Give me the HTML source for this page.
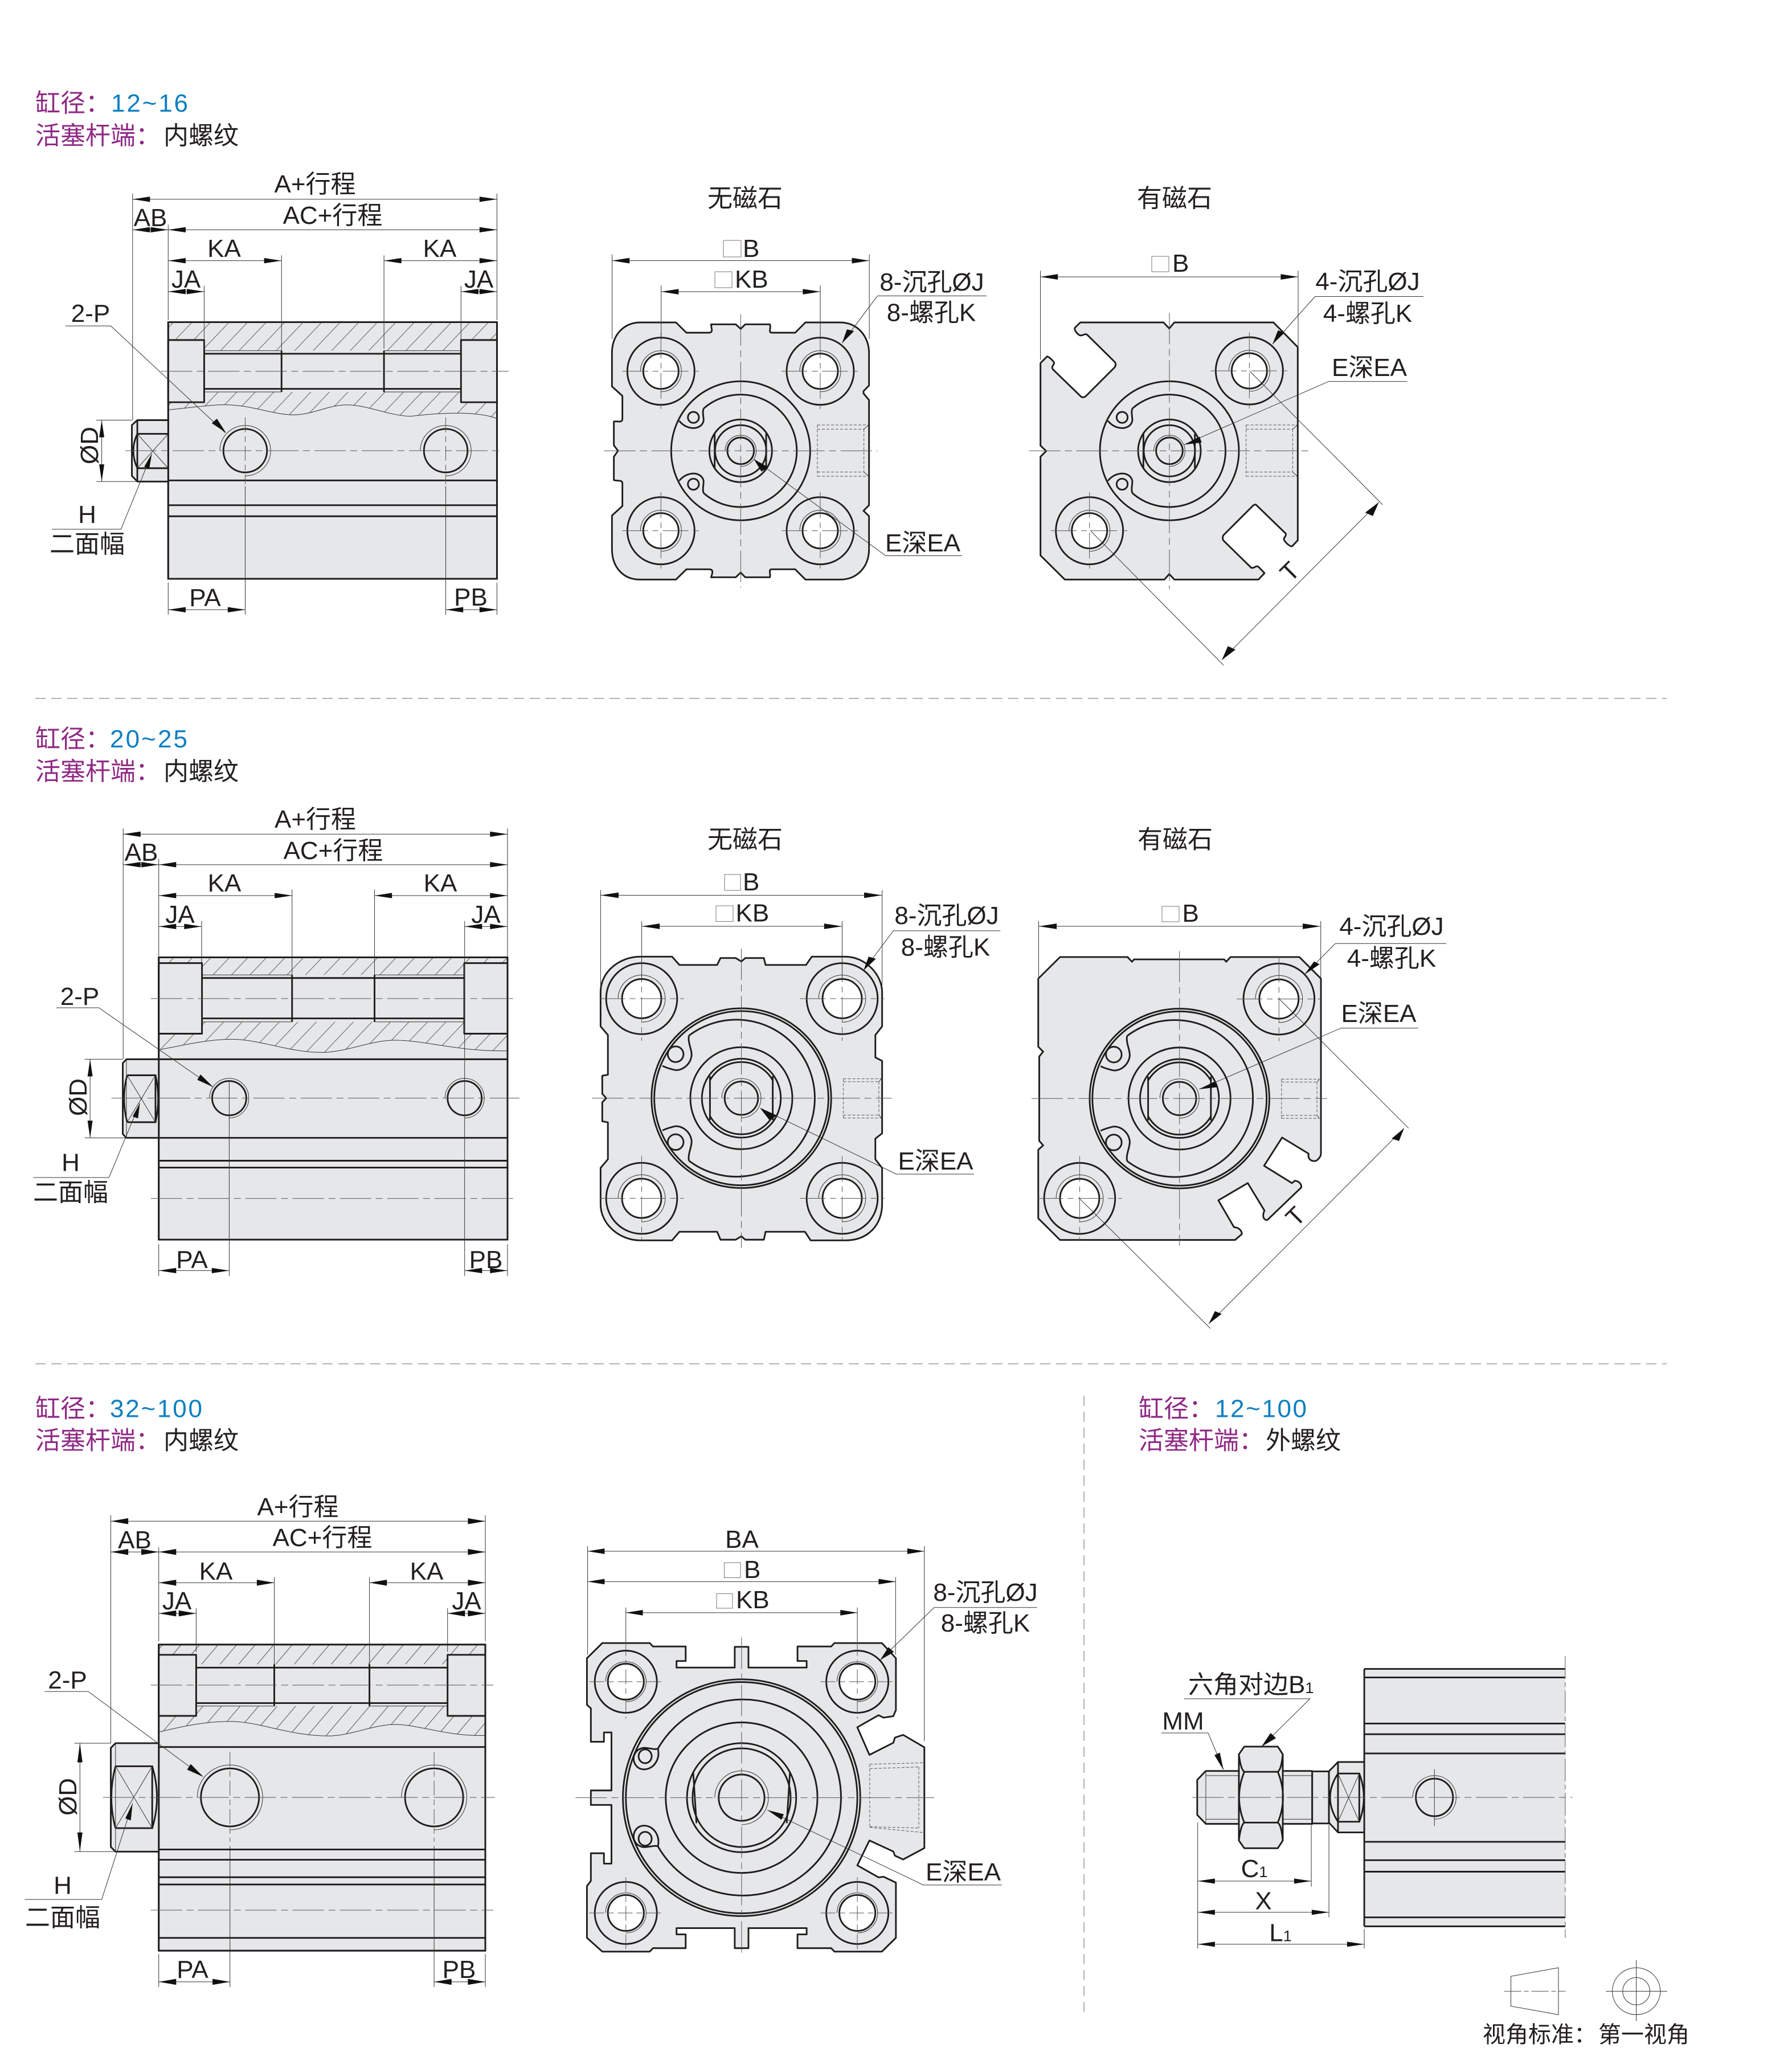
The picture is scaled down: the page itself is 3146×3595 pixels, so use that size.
<!DOCTYPE html>
<html><head><meta charset="utf-8">
<style>
html,body{margin:0;padding:0;background:#fff}
svg{display:block}
svg path,svg line,svg ellipse,svg circle,svg rect,svg polyline,svg polygon{vector-effect:non-scaling-stroke}
.o{fill:none;stroke:#1f1c1d;stroke-width:2.9}
.f{fill:#e6e7e9;stroke:#1f1c1d;stroke-width:2.9;stroke-linejoin:round}
.w{fill:#fff;stroke:#1f1c1d;stroke-width:2.9}
.t{fill:none;stroke:#333;stroke-width:1}
.c{fill:none;stroke:#555;stroke-width:1;stroke-dasharray:55 8 12 8}
.c2{fill:none;stroke:#555;stroke-width:1;stroke-dasharray:26 7 10 7}
.d{fill:none;stroke:#555;stroke-width:1;stroke-dasharray:5 3}
.a{fill:#111;stroke:none}
.sep{fill:none;stroke:#9a9a9a;stroke-width:1.5;stroke-dasharray:18 10}
text{font-family:"Liberation Sans","Noto Sans CJK SC",sans-serif;font-size:44px;fill:#231f20}
.m{text-anchor:middle}
.h{font-size:44px}
.p{fill:#8f2a85}
.b{fill:#0b7fc1}
.q{fill:#fff;stroke:#777;stroke-width:1}
</style></head><body>
<svg xmlns="http://www.w3.org/2000/svg" width="3146" height="3595" viewBox="0 0 3146 3595">
<defs>
<pattern id="hx" width="51" height="51" patternUnits="userSpaceOnUse"><path d="M0,51 L51,0 M-10,10 L10,-10 M41,61 L61,41" stroke="#444" stroke-width="1.3" fill="none"/></pattern>
<polygon id="L" class="a" points="0,0 48,-7 48,7"/>
<polygon id="R" class="a" points="0,0 -48,-7 -48,7"/>
<polygon id="U" class="a" points="0,0 -7,45 7,45"/>
<polygon id="D" class="a" points="0,0 -7,-45 7,-45"/>
<polygon id="L2" class="a" points="0,0 32,-8 32,8"/>
<polygon id="R2" class="a" points="0,0 -32,-8 -32,8"/>
<polygon id="L6" class="a" points="0,0 52,-8 52,8"/>
<polygon id="R6" class="a" points="0,0 -52,-8 -52,8"/>
<polygon id="L7" class="a" points="0,0 38,-6 38,6"/>
<polygon id="R7" class="a" points="0,0 -38,-6 -38,6"/>
<!-- holes: units at 1/3 scale -->
<g id="hz1"><circle class="o" r="177"/><path class="t" d="M-108,0 A108,108 0 1 1 0,108"/><circle class="w" r="93"/><path class="c2" d="M-203,0 H203 M0,-203 V203" style="stroke-dasharray:45 8 10 8"/></g>
<g id="hz2"><circle class="o" r="181"/><path class="t" d="M-120,0 A120,120 0 1 1 0,120"/><circle class="w" r="100"/><path class="c2" d="M-215,0 H215 M0,-215 V215" style="stroke-dasharray:45 8 10 8"/></g>
<g id="h3"><ellipse class="o" rx="95" ry="90"/><path class="t" d="M-62,0 A62,58 0 1 1 0,58"/><ellipse class="w" rx="55" ry="52"/></g>
<g id="core1">
<circle class="o" r="366"/>
<path class="o" d="M-194,-224 A296,296 0 1 1 -194,224"/>
<path class="o" d="M-194,-224 C-205,-205 -192,-170 -196,-155 C-205,-125 -235,-118 -255,-120 C-280,-122 -305,-135 -324,-158"/>
<path class="o" d="M-194,224 C-205,205 -192,170 -196,155 C-205,125 -235,118 -255,120 C-280,122 -305,135 -324,158"/>
<circle class="o" cx="-249" cy="-176" r="29"/><circle class="o" cx="-249" cy="176" r="29"/>
<circle class="o" r="165"/>
<circle class="o" r="135"/>
<path class="o" d="M-137,-89 V91 M134,-89 V91"/>
<path class="t" d="M-82,0 A82,82 0 1 1 0,82"/>
<circle class="o" r="70"/>
<path class="d" d="M404,-136 H674 M404,-114 H649 M404,112 H649 M404,134 H674 M404,-136 V134 M649,-114 V112"/>
<path class="t" d="M649,-114 L674,-136 M649,112 L674,134"/>
</g>
<g id="core2">
<circle class="o" r="458"/>
<circle class="o" r="444"/>
<path class="o" d="M-267,-319 A400,400 0 1 1 -267,319" />
<path class="o" d="M-267,-319 C-275,-285 -250,-245 -254,-215 C-262,-165 -310,-135 -345,-145 C-365,-150 -385,-155 -402,-165"/>
<path class="o" d="M-267,319 C-275,285 -250,245 -254,215 C-262,165 -310,135 -345,145 C-365,150 -385,155 -402,165"/>
<circle class="o" cx="-335" cy="-224" r="40"/><circle class="o" cx="-335" cy="224" r="40"/>
<circle class="o" r="260"/>
<circle class="o" r="201"/>
<path class="o" d="M-160,-91 A184,184 0 0 1 160,-91 M-160,91 A184,184 0 0 0 160,91 M-160,-112 V112 M160,-112 V112"/>
<path class="t" d="M-100,0 A100,100 0 1 1 0,100"/>
<circle class="o" r="85"/>
<path class="d" d="M520,-99 H713 M520,-84 H701 M520,86 H701 M520,101 H713 M520,-99 V101 M701,-84 V86"/>
<path class="t" d="M701,-84 L713,-99 M701,86 L713,101"/>
</g>
</defs>

<!-- separators -->
<path class="sep" d="M62,1226 H2926 M62,2394 H2926 M1903,2450 V3540"/>

<!-- ========== SECTION 1 SIDE ========== -->
<g transform="translate(0,100) scale(.63776,.66964)">
<rect class="f" x="463" y="695" width="905" height="673"/>
<path d="M463,695 H1368 V948 C1320,930 1230,930 1130,942 C1070,940 1010,912 955,912 C900,912 860,940 800,938 C740,935 680,908 600,912 C550,915 500,922 463,925 Z" fill="url(#hx)"/>
<path class="t" d="M463,925 C500,922 550,915 600,912 C680,908 740,935 800,938 C860,940 900,912 955,912 C1010,912 1070,940 1130,942 C1230,930 1320,930 1368,948"/>
<rect x="562" y="770" width="707" height="108" fill="#e6e7e9"/>
<path class="t" d="M562,770 H775 M1057,770 H1269 M562,878 H775 M1057,878 H1269"/>
<path class="o" d="M562,778 H1269 M562,870 H1269 M775,770 V878 M1057,770 V878"/>
<rect class="f" x="463" y="742" width="99" height="163"/>
<rect class="f" x="1269" y="742" width="99" height="163"/>
<rect class="o" x="463" y="695" width="905" height="673"/>
<path class="o" d="M463,1110 H1368 M463,1175 H1368 M463,1204 H1368"/>
<path class="t" d="M605,1032 A70,66 0 1 1 675,1098"/><ellipse class="o" cx="675" cy="1032" rx="60" ry="57"/>
<path class="t" d="M1157,1032 A70,66 0 1 1 1227,1098"/><ellipse class="o" cx="1227" cy="1032" rx="60" ry="57"/>
<path class="f" d="M363,965 L378,952 H463 V1113 H378 L363,1098 Z"/>
<path class="o" d="M378,988 H463 M378,1078 H463 M378,952 V1113 M378,988 Q356,1032 378,1078"/>
<path class="t" d="M378,988 L463,1078 M378,1078 L463,988"/>
<path class="c" d="M443,824 H1400 M345,1032 H1383"/>
<path class="c2" d="M675,945 V1120 M1227,945 V1120"/>
<path class="t" d="M675,1125 V1462 M1227,1125 V1462"/>
<path class="t" d="M365,373 H1368 M365,358 V952 M1368,358 V690 M463,453 H1368 M463,440 V690 M365,453 H463 M463,534 H775 M775,520 V770 M1057,534 H1368 M1057,520 V765 M463,615 H562 M562,600 V770 M1269,615 H1368 M1269,600 V742 M463,1449 H675 M463,1378 V1462 M1227,1449 H1368 M1368,1378 V1462 M280,952 V1113 M265,952 H363 M265,1113 H375 M180,705 H305 L620,985 M143,1238 H333 L418,1040"/>
<use href="#L" x="365" y="373"/><use href="#R" x="1368" y="373"/>
<use href="#L" x="463" y="453"/><use href="#R" x="1368" y="453"/>
<use href="#L" x="365" y="453"/><use href="#R" x="463" y="453"/>
<use href="#L" x="463" y="534"/><use href="#R" x="775" y="534"/>
<use href="#L" x="1057" y="534"/><use href="#R" x="1368" y="534"/>
<use href="#L" x="463" y="615"/><use href="#R" x="562" y="615"/>
<use href="#L" x="1269" y="615"/><use href="#R" x="1368" y="615"/>
<use href="#L" x="463" y="1449"/><use href="#R" x="675" y="1449"/>
<use href="#L" x="1227" y="1449"/><use href="#R" x="1368" y="1449"/>
<use href="#U" x="280" y="952"/><use href="#D" x="280" y="1113"/>
<polygon class="a" points="622,985 583,960 597,948"/>
<polygon class="a" points="418,1040 397,1074 411,1079"/>
</g>

<!-- SECTION 1 PLAN LEFT shape -->
<g transform="translate(1040,540) scale(.33333)">
<path class="f" d="M103,240 C103,140 170,78 250,78 H440 L495,132 H615 C625,132 632,125 628,112 L625,88 H755 L781,112 L805,88 H935 C942,110 925,132 945,132 H1068 L1122,78 H1305 C1395,78 1457,150 1457,240 V410 L1428,440 V452 L1457,487 V1040 L1428,1070 L1457,1098 V1270 C1457,1370 1390,1432 1305,1432 H1122 L1068,1378 H945 C925,1378 940,1400 935,1420 H805 L781,1395 L755,1420 H625 C632,1400 640,1378 615,1378 H495 L440,1432 H250 C165,1432 103,1370 103,1270 V1095 L158,1045 V925 C158,905 130,915 113,908 V785 L135,754 L113,725 V600 C130,595 158,610 158,585 V465 L103,415 Z"/>
<use href="#hz1" x="361" y="335"/><use href="#hz1" x="1200" y="335"/><use href="#hz1" x="361" y="1175"/><use href="#hz1" x="1200" y="1175"/>
<use href="#core1" x="781" y="754"/>
<path class="c" d="M62,754 H1500 M781,35 V1475"/>
</g>
<!-- SECTION 1 PLAN RIGHT shape -->
<g transform="translate(1800,540) scale(.33333)">
<path class="f" d="M290,78 H728 L758,110 L785,78 H1307 L1435,208 V1225 L1405,1257 C1390,1258 1362,1230 1362,1218 C1362,1210 1375,1205 1372,1190 L1215,1038 C1212,1036 1205,1038 1200,1042 L1045,1197 C1038,1205 1038,1220 1045,1228 L1190,1370 C1205,1375 1215,1355 1228,1365 L1260,1398 L1228,1432 H785 L758,1403 L733,1432 H208 L80,1305 V785 L110,755 L80,727 V292 L115,257 C125,258 152,285 152,292 C152,300 135,310 145,325 L295,470 C305,475 315,470 320,465 L470,315 C478,305 478,295 470,285 L325,142 C310,135 300,152 285,145 C270,135 255,115 262,105 Z"/>
<use href="#hz1" x="1180" y="333"/><use href="#hz1" x="338" y="1175"/>
<use href="#core1" x="759" y="754"/>
<path class="c" d="M20,754 H1498 M759,28 V1482"/>
</g>
<!-- SECTION 1 PLAN dims -->
<g transform="translate(1000,280) scale(.95663,.60587)">
<path class="t" d="M168,365 V520 M460,365 V520"/>
<path class="t" d="M78,293 H550 M78,275 V520 M550,275 V520 M168,383 H460 M565,395 H765 M565,395 L500,532 M720,1148 H580 L340,870"/>
<use href="#L2" x="78" y="293"/><use href="#R2" x="550" y="293"/>
<use href="#L2" x="168" y="383"/><use href="#R2" x="460" y="383"/>
<polygon class="a" points="500,532 509,492 522,497"/>
<polygon class="a" points="338,868 365,892 352,904"/>
<path class="t" d="M864,340 H1337 M864,322 V580 M1337,322 V545 M1567,397 H1368 L1290,535 M1537,643 H1393 L1128,826 M1248,613 L1492,1000 M955,1074 L1200,1465 M1197,1450 L1485,993"/>
<use href="#L2" x="864" y="340"/><use href="#R2" x="1337" y="340"/>
<polygon class="a" points="1290,535 1300,495 1312,502"/>
<polygon class="a" points="1128,826 1156,803 1160,820"/>
<polygon class="a" points="1197,1450 1208,1410 1222,1420"/>
<polygon class="a" points="1485,993 1474,1033 1460,1023"/>
</g>

<!-- ========== SECTION 2 SIDE ========== -->
<g transform="translate(0,1250) scale(.63776,.66964)">
<rect class="f" x="437" y="643" width="960" height="740"/>
<path d="M437,643 H1397 V888 C1260,890 1180,862 1090,860 C1020,860 960,890 890,892 C800,893 730,862 650,858 C580,855 500,875 437,885 Z" fill="url(#hx)"/>
<path class="t" d="M437,885 C500,875 580,855 650,858 C730,862 800,893 890,892 C960,890 1020,860 1090,860 C1180,862 1260,890 1397,888"/>
<rect x="556" y="689" width="722" height="123" fill="#e6e7e9"/>
<path class="t" d="M556,689 H804 M1031,689 H1278 M556,812 H804 M1031,812 H1278"/>
<path class="o" d="M556,697 H1278 M556,803 H1278 M804,689 V812 M1031,689 V812"/>
<rect class="f" x="437" y="658" width="119" height="185"/>
<rect class="f" x="1278" y="658" width="119" height="185"/>
<rect class="o" x="437" y="643" width="960" height="740"/>
<path class="o" d="M437,910 H1397 M437,1116 H1397 M437,1176 H1397 M437,1194 H1397"/>
<path class="t" d="M577,1012 A54,52 0 1 1 631,1064"/><ellipse class="o" cx="631" cy="1012" rx="47" ry="45"/>
<path class="t" d="M1225,1012 A54,52 0 1 1 1279,1064"/><ellipse class="o" cx="1279" cy="1012" rx="47" ry="45"/>
<path class="f" d="M338,920 L348,910 H437 V1116 H348 L338,1106 Z"/>
<path class="o" d="M350,952 H428 V1075 H350 M350,952 Q333,1012 350,1075 M428,952 Q443,1012 428,1075"/>
<path class="t" d="M348,910 V1116 M350,952 L428,1075 M350,1075 L428,952"/>
<path class="c" d="M415,751 H1420 M307,1012 H1430 M415,1275 H1420"/>
<path class="t" d="M631,965 V1478 M1279,548 V1478"/>
<path class="t" d="M339,320 H1397 M339,305 V910 M1397,305 V640 M437,400 H1397 M437,385 V640 M339,400 H437 M437,481 H804 M804,465 V690 M1031,481 H1397 M1031,465 V690 M437,562 H555 M555,548 V658 M1279,562 H1397 M437,1464 H631 M437,1395 V1478 M1279,1464 H1397 M1397,1395 V1478 M248,910 V1116 M233,910 H338 M233,1116 H345 M155,775 H272 L585,982 M92,1220 H300 L385,1025"/>
<use href="#L" x="339" y="320"/><use href="#R" x="1397" y="320"/>
<use href="#L" x="437" y="400"/><use href="#R" x="1397" y="400"/>
<use href="#L" x="339" y="400"/><use href="#R" x="437" y="400"/>
<use href="#L" x="437" y="481"/><use href="#R" x="804" y="481"/>
<use href="#L" x="1031" y="481"/><use href="#R" x="1397" y="481"/>
<use href="#L" x="437" y="562"/><use href="#R" x="555" y="562"/>
<use href="#L" x="1279" y="562"/><use href="#R" x="1397" y="562"/>
<use href="#L" x="437" y="1464"/><use href="#R" x="631" y="1464"/>
<use href="#L" x="1279" y="1464"/><use href="#R" x="1397" y="1464"/>
<use href="#U" x="248" y="910"/><use href="#D" x="248" y="1116"/>
<polygon class="a" points="587,983 543,964 552,950"/>
<polygon class="a" points="385,1025 365,1060 380,1065"/>
</g>

<!-- SECTION 2 PLAN LEFT shape -->
<g transform="translate(1000,1420) scale(.98852,.60587)">
<path class="f" d="M55,530 C55,470 90,428 125,428 H182 L195,452 H262 L268,432 H295 L305,442 L312,432 H345 L348,452 H420 L430,428 H490 C525,428 555,480 555,530 V630 L543,655 V720 L555,730 V940 L543,955 V1015 L555,1040 V1145 C555,1205 530,1250 490,1250 H428 L418,1225 H348 L345,1248 H312 L305,1238 L295,1248 H268 L262,1225 H195 L182,1250 H125 C90,1250 55,1205 55,1145 V1040 L68,1015 V908 L58,905 V850 L65,838 L58,825 V773 L68,770 V655 L55,630 Z"/>
</g>
<g transform="translate(1126.5,1753) scale(.3444)"><use href="#hz2"/></g>
<g transform="translate(1478.5,1753) scale(.3444)"><use href="#hz2"/></g>
<g transform="translate(1126.5,2103.5) scale(.3444)"><use href="#hz2"/></g>
<g transform="translate(1478.5,2103.5) scale(.3444)"><use href="#hz2"/></g>
<g transform="translate(1301.5,1927.7) scale(.3444)"><use href="#core2"/></g>
<!-- SECTION 2 PLAN RIGHT shape -->
<g transform="translate(1810,1660) scale(.3444)">
<path class="f" d="M148,58 H492 L515,82 L525,70 H985 L995,82 L1017,58 H1368 L1478,168 V1060 C1478,1075 1460,1098 1445,1098 C1425,1098 1410,1085 1415,1060 L1280,978 L1188,1122 L1330,1210 L1345,1198 C1365,1200 1380,1215 1378,1232 L1205,1398 C1190,1400 1175,1385 1190,1350 L1105,1210 L955,1298 L1035,1435 C1055,1435 1075,1450 1075,1470 L1040,1500 H148 L37,1390 V1040 L62,1018 L42,995 V565 L62,540 L37,515 V168 Z"/>
<use href="#hz2" x="1264" y="272"/><use href="#hz2" x="248" y="1288"/>
<use href="#core2" x="757" y="779"/>
<path class="c" d="M3,779 H1510 M757,28 V1530"/>
</g>
<!-- SECTION 2 PLAN dims -->
<g transform="translate(1000,1420) scale(.98852,.60587)">
<path class="c" d="M40,838 H572 M305,405 V1272"/>
<path class="t" d="M128,325 V500 M484,325 V500"/>
<path class="t" d="M55,250 H555 M55,235 V510 M555,235 V510 M128,340 H484 M765,353 H575 L522,468 M718,1058 H580 L340,868"/>
<use href="#L2" x="55" y="250"/><use href="#R2" x="555" y="250"/>
<use href="#L2" x="128" y="340"/><use href="#R2" x="484" y="340"/>
<polygon class="a" points="522,468 531,428 544,434"/>
<polygon class="a" points="338,866 368,888 355,902"/>
<path class="t" d="M833,340 H1333 M833,325 V490 M1334,325 V490 M1557,390 H1360 L1305,480 M1507,635 H1370 L1118,812 M1260,550 L1490,925 M905,1128 L1138,1505 M1135,1492 L1482,925"/>
<use href="#L2" x="833" y="340"/><use href="#R2" x="1334" y="340"/>
<polygon class="a" points="1305,480 1322,442 1332,450"/>
<polygon class="a" points="1118,812 1145,790 1150,806"/>
<polygon class="a" points="1135,1492 1146,1455 1158,1463"/>
<polygon class="a" points="1482,925 1473,962 1460,955"/>
</g>

<!-- ========== SECTION 3 SIDE ========== -->
<g transform="translate(0,2420) scale(.63776,.74936)">
<rect class="f" x="437" y="623" width="899" height="717"/>
<path d="M437,623 H1336 V836 C1230,838 1160,812 1090,810 C1030,810 970,835 910,837 C800,838 720,805 640,803 C570,802 500,815 437,828 Z" fill="url(#hx)"/>
<path class="t" d="M437,828 C500,815 570,802 640,803 C720,805 800,838 910,837 C970,835 1030,810 1090,810 C1160,812 1230,838 1336,836"/>
<rect x="540" y="669" width="692" height="98" fill="#e6e7e9"/>
<path class="t" d="M540,767 H755 M1017,767 H1232"/>
<path class="o" d="M540,677 H1232 M540,760 H1232 M755,669 V767 M1017,669 V767"/>
<rect class="f" x="437" y="647" width="103" height="143"/>
<rect class="f" x="1232" y="647" width="104" height="143"/>
<rect class="o" x="437" y="623" width="899" height="717"/>
<path class="o" d="M437,863 H1336 M437,1103 H1336 M437,1127 H1336 M437,1168 H1336 M437,1185 H1336 M437,1310 H1336"/>
<path class="t" d="M543,981 A90,76 0 1 1 633,1057"/><ellipse class="o" cx="633" cy="981" rx="80" ry="68"/>
<path class="t" d="M1105,981 A90,76 0 1 1 1195,1057"/><ellipse class="o" cx="1195" cy="981" rx="80" ry="68"/>
<path class="f" d="M305,865 L318,854 H437 V1108 H318 L305,1097 Z"/>
<path class="o" d="M318,908 H419 V1053 H318 M318,908 Q295,981 318,1053 M419,908 Q445,981 419,1053"/>
<path class="t" d="M318,854 V1108 M318,908 L419,1053 M318,1053 L419,908"/>
<path class="c" d="M415,718 H1358 M283,981 H1362 M415,1245 H1358"/>
<path class="c2" d="M633,875 V1085 M1195,875 V1085"/>
<path class="t" d="M633,1095 V1425 M1195,1095 V1425"/>
<path class="t" d="M305,334 H1336 M305,320 V854 M1336,320 V615 M437,406 H1336 M437,395 V615 M305,406 H437 M437,478 H755 M755,465 V670 M1017,478 H1336 M1017,465 V670 M437,550 H540 M540,538 V640 M1232,550 H1336 M1232,538 V640 M437,1413 H633 M437,1348 V1425 M1195,1413 H1336 M1336,1348 V1425 M220,854 V1108 M205,854 H305 M205,1108 H318 M123,733 H243 L558,932 M68,1220 H280 L365,995"/>
<use href="#L" x="305" y="334"/><use href="#R" x="1336" y="334"/>
<use href="#L" x="437" y="406"/><use href="#R" x="1336" y="406"/>
<use href="#L" x="305" y="406"/><use href="#R" x="437" y="406"/>
<use href="#L" x="437" y="478"/><use href="#R" x="755" y="478"/>
<use href="#L" x="1017" y="478"/><use href="#R" x="1336" y="478"/>
<use href="#L" x="437" y="550"/><use href="#R" x="540" y="550"/>
<use href="#L" x="1232" y="550"/><use href="#R" x="1336" y="550"/>
<use href="#L" x="437" y="1413"/><use href="#R" x="633" y="1413"/>
<use href="#L" x="1195" y="1413"/><use href="#R" x="1336" y="1413"/>
<use href="#U" x="220" y="854"/><use href="#D" x="220" y="1108"/>
<polygon class="a" points="560,933 515,916 525,903"/>
<polygon class="a" points="365,995 345,1030 360,1035"/>
</g>

<!-- ========== SECTION 3 PLAN ========== -->
<g transform="translate(1000,2620) scale(.57398,.60587)">
<path class="f" d="M53,480 L100,436 H245 L255,446 H355 V488 H327 V507 H505 V447 H547 V507 H725 V488 H697 V446 H800 L810,436 H955 L998,480 V630 L990,648 L960,652 L945,645 L880,680 L917,760 L990,725 L995,710 L1020,702 L1085,738 V1030 L1020,1063 L995,1052 L990,1040 L917,1008 L880,1080 L945,1115 L960,1113 L998,1130 V1290 L955,1330 H810 L800,1320 H697 V1280 H725 V1262 H547 V1320 H505 V1262 H327 V1280 H355 V1320 H255 L245,1330 H100 L53,1290 V1140 L65,1125 V1045 H105 V1075 H128 V905 H65 V863 H128 V695 H105 V722 H65 V625 L53,615 Z"/>
<use href="#h3" x="172" y="548"/><use href="#h3" x="880" y="548"/><use href="#h3" x="172" y="1218"/><use href="#h3" x="880" y="1218"/>
<ellipse class="o" cx="526" cy="884" rx="363" ry="343"/>
<ellipse class="o" cx="526" cy="884" rx="354" ry="335"/>
<path class="o" d="M270,742 A300,284 0 1 1 270,1025"/>
<path class="o" d="M270,742 C278,775 255,802 228,802 C205,802 192,782 197,762 C203,745 220,738 235,740 C252,742 262,745 270,742"/>
<path class="o" d="M270,1025 C278,992 255,965 228,965 C205,965 192,985 197,1005 C203,1022 220,1029 235,1027 C252,1025 262,1022 270,1025"/>
<ellipse class="o" cx="231" cy="764" rx="20" ry="20"/><ellipse class="o" cx="231" cy="1003" rx="20" ry="20"/>
<ellipse class="o" cx="526" cy="884" rx="232" ry="218"/>
<ellipse class="o" cx="526" cy="884" rx="167" ry="158"/>
<ellipse class="o" cx="526" cy="884" rx="150" ry="143"/>
<path class="o" d="M378,810 L388,958 M674,810 L664,958"/>
<path class="t" d="M444,884 A82,78 0 1 1 526,962"/>
<ellipse class="o" cx="526" cy="884" rx="70" ry="67"/>
<path class="d" d="M918,787 L1082,783 M918,800 L1068,795 M918,968 L1068,972 M918,970 L1082,985 M918,787 V970 M1068,795 V972"/>
<path class="c" d="M18,884 H1115 M526,420 V1345"/>
<path class="c2" d="M60,548 H283 M768,548 H990 M60,1218 H283 M768,1218 H990 M172,430 V655 M880,430 V655 M172,1115 V1325 M880,1115 V1325"/>
<path class="t" d="M172,333 V430 M880,333 V430"/>
<path class="t" d="M55,170 H1085 M55,155 V470 M1085,155 V720 M55,258 H997 M997,245 V470 M172,348 H880 M1430,333 H1115 L950,485 M1322,1137 H1082 L605,920"/>
<use href="#L6" x="55" y="170"/><use href="#R6" x="1085" y="170"/>
<use href="#L6" x="55" y="258"/><use href="#R6" x="997" y="258"/>
<use href="#L6" x="172" y="348"/><use href="#R6" x="880" y="348"/>
<polygon class="a" points="950,485 975,448 992,462"/>
<polygon class="a" points="605,920 655,932 648,948"/>
</g>

<!-- ========== EXTERNAL THREAD VIEW ========== -->
<g transform="translate(1900,2420) scale(.79464,.74936)">
<rect x="623" y="680" width="444" height="603" fill="#e6e7e9"/>
<path class="o" d="M623,680 V1283 M623,680 H1067 M623,700 H1067 M623,808 H1067 M623,833 H1067 M623,878 H1067 M623,1085 H1067 M623,1128 H1067 M623,1155 H1067 M623,1262 H1067 M623,1283 H1067"/>
<path class="c" d="M1067,650 V1310" style="stroke-dasharray:40 6 8 6"/>
<path class="t" d="M730,981 A48,51 0 1 1 778,1032"/><ellipse class="o" cx="778" cy="981" rx="41" ry="44"/>
<path class="t" d="M778,915 V1048"/>
<path class="f" d="M254,940 L273,919 H508 V1043 H273 L254,1022 Z"/>
<path class="t" d="M273,930 H508 M273,1032 H508 M273,919 V1043"/>
<rect class="f" x="508" y="920" width="37" height="122"/>
<path class="f" d="M545,920 L565,898 H623 V1063 H565 L545,1040 Z"/>
<path class="o" d="M565,898 V1063 M565,925 H612 V1038 H565 M565,925 Q530,981 565,1038 M612,925 Q632,981 612,1038"/>
<path class="t" d="M565,925 L612,1038 M565,1038 L612,925"/>
<path class="f" d="M358,862 H432 L443,880 V1082 L432,1100 H358 L346,1082 V880 Z"/>
<path class="o" d="M358,921 H432 M358,1040 H432 M358,921 Q335,981 358,1040 M432,921 Q455,981 432,1040 M346,880 Q350,915 358,921 M443,880 Q440,915 432,921 M346,1082 Q350,1046 358,1040 M443,1082 Q440,1046 432,1040"/>
<path class="c" d="M243,981 H1083"/>
<path class="t" d="M255,1177 H506 M255,1040 V1335 M506,1045 V1190 M255,1250 H545 M545,1045 V1262 M255,1325 H623 M623,1290 V1335 M225,750 H503 L398,860 M175,830 H278 L312,915"/>
<use href="#L7" x="255" y="1177"/><use href="#R7" x="506" y="1177"/>
<use href="#L7" x="255" y="1250"/><use href="#R7" x="545" y="1250"/>
<use href="#L7" x="255" y="1325"/><use href="#R7" x="623" y="1325"/>
<polygon class="a" points="396,862 416,830 428,842"/>
<polygon class="a" points="312,917 292,882 304,876"/>
<path class="t" d="M947,1400 L1052,1380 V1490 L947,1470 Z"/>
<path class="c" d="M932,1435 H1068" style="stroke-dasharray:30 5 8 5"/>
<ellipse class="t" cx="1224" cy="1435" rx="53" ry="55"/>
<ellipse class="t" cx="1224" cy="1435" rx="30" ry="32"/>
<path class="t" d="M1157,1435 H1292 M1224,1362 V1505"/>
</g>

<!-- ========== TEXT ========== -->
<text class="h p" x="62" y="196">缸径：</text><text class="h b" x="195" y="196" textLength="135">12~16</text>
<text class="h p" x="62" y="253">活塞杆端：</text><text class="h" x="287" y="253">内螺纹</text>
<text class="m" x="553" y="338">A+行程</text><text class="m" x="584" y="393">AC+行程</text>
<text class="m" x="264" y="397">AB</text>
<text class="m" x="393.5" y="451">KA</text><text class="m" x="772" y="451">KA</text>
<text class="m" x="326.5" y="505">JA</text><text class="m" x="840.5" y="505">JA</text>
<text class="m" x="159" y="565">2-P</text>
<text class="m" transform="rotate(-90 172 782)" x="172" y="782">ØD</text>
<text class="m" x="153" y="918">H</text><text class="m" x="153" y="970">二面幅</text>
<text class="m" x="360" y="1064">PA</text><text class="m" x="826.5" y="1063">PB</text>
<text class="m" x="1308" y="363">无磁石</text><text class="m" x="2062" y="363">有磁石</text>
<rect class="q" x="1270" y="422" width="31" height="29"/><text x="1304" y="451">B</text>
<rect class="q" x="1255" y="477" width="30" height="28"/><text x="1290" y="505">KB</text>
<text class="m" x="1636" y="510">8-沉孔ØJ</text><text class="m" x="1635" y="563.5">8-螺孔K</text>
<text class="m" x="1620" y="968">E深EA</text>
<rect class="q" x="2022" y="450" width="30" height="27"/><text x="2058" y="477">B</text>
<text class="m" x="2401" y="509">4-沉孔ØJ</text><text class="m" x="2401" y="565">4-螺孔K</text>
<text class="m" x="2404" y="660">E深EA</text>
<text class="m" transform="rotate(-45 2275 1014)" x="2275" y="1014">T</text>

<text class="h p" x="62" y="1312">缸径：</text><text class="h b" x="193" y="1312" textLength="136">20~25</text>
<text class="h p" x="62" y="1369">活塞杆端：</text><text class="h" x="287" y="1369">内螺纹</text>
<text class="m" x="553.5" y="1453">A+行程</text><text class="m" x="585" y="1508">AC+行程</text>
<text class="m" x="248" y="1511">AB</text>
<text class="m" x="394" y="1565">KA</text><text class="m" x="773" y="1565">KA</text>
<text class="m" x="316" y="1620">JA</text><text class="m" x="853" y="1620">JA</text>
<text class="m" x="140" y="1764">2-P</text>
<text class="m" transform="rotate(-90 152 1926)" x="152" y="1926">ØD</text>
<text class="m" x="124" y="2055.5">H</text><text class="m" x="124" y="2108">二面幅</text>
<text class="m" x="337" y="2226">PA</text><text class="m" x="853" y="2226">PB</text>
<text class="m" x="1308" y="1488.5">无磁石</text><text class="m" x="2063" y="1488.5">有磁石</text>
<rect class="q" x="1272" y="1535" width="28" height="28"/><text x="1304" y="1563">B</text>
<rect class="q" x="1257" y="1590" width="30" height="27.5"/><text x="1291.5" y="1617.5">KB</text>
<text class="m" x="1662" y="1622">8-沉孔ØJ</text><text class="m" x="1660" y="1677.5">8-螺孔K</text>
<text class="m" x="1642.5" y="2053">E深EA</text>
<rect class="q" x="2040" y="1591" width="30" height="27"/><text x="2075.5" y="1618">B</text>
<text class="m" x="2443" y="1641">4-沉孔ØJ</text><text class="m" x="2443" y="1697">4-螺孔K</text>
<text class="m" x="2420.5" y="1794">E深EA</text>
<text class="m" transform="rotate(-45 2285 2146)" x="2285" y="2146">T</text>

<text class="h p" x="62" y="2487.5">缸径：</text><text class="h b" x="193" y="2487.5" textLength="162">32~100</text>
<text class="h p" x="62" y="2543.5">活塞杆端：</text><text class="h" x="287" y="2543.5">内螺纹</text>
<text class="m" x="523" y="2660">A+行程</text><text class="m" x="566" y="2714">AC+行程</text>
<text class="m" x="236.5" y="2718">AB</text>
<text class="m" x="379" y="2773">KA</text><text class="m" x="749" y="2773">KA</text>
<text class="m" x="310.5" y="2825">JA</text><text class="m" x="819" y="2825">JA</text>
<text class="m" x="118.5" y="2964">2-P</text>
<text class="m" transform="rotate(-90 134 3154)" x="134" y="3154">ØD</text>
<text class="m" x="110" y="3324.5">H</text><text class="m" x="110" y="3381">二面幅</text>
<text class="m" x="338" y="3472">PA</text><text class="m" x="806" y="3472">PB</text>
<text class="m" x="1302.5" y="2717">BA</text>
<rect class="q" x="1271.5" y="2743" width="28.5" height="26.5"/><text x="1306" y="2770">B</text>
<rect class="q" x="1258" y="2797.5" width="28" height="25.5"/><text x="1292" y="2823">KB</text>
<text class="m" x="1730" y="2810">8-沉孔ØJ</text><text class="m" x="1730" y="2864">8-螺孔K</text>
<text class="m" x="1691" y="3301">E深EA</text>

<text class="h p" x="1999" y="2487.5">缸径：</text><text class="h b" x="2133" y="2487.5" textLength="161">12~100</text>
<text class="h p" x="1999" y="2543.5">活塞杆端：</text><text class="h" x="2222" y="2543.5">外螺纹</text>
<text x="2086" y="2972">六角对边B<tspan style="font-size:27px">1</tspan></text>
<text class="m" x="2077" y="3036">MM</text>
<text class="m" x="2202" y="3295">C<tspan style="font-size:27px">1</tspan></text>
<text class="m" x="2218" y="3351.5">X</text>
<text class="m" x="2248" y="3407.5">L<tspan style="font-size:27px">1</tspan></text>
<text x="2603" y="3585" style="font-size:40px">视角标准：</text><text x="2806" y="3585" style="font-size:40px">第一视角</text>
</svg>
</body></html>
